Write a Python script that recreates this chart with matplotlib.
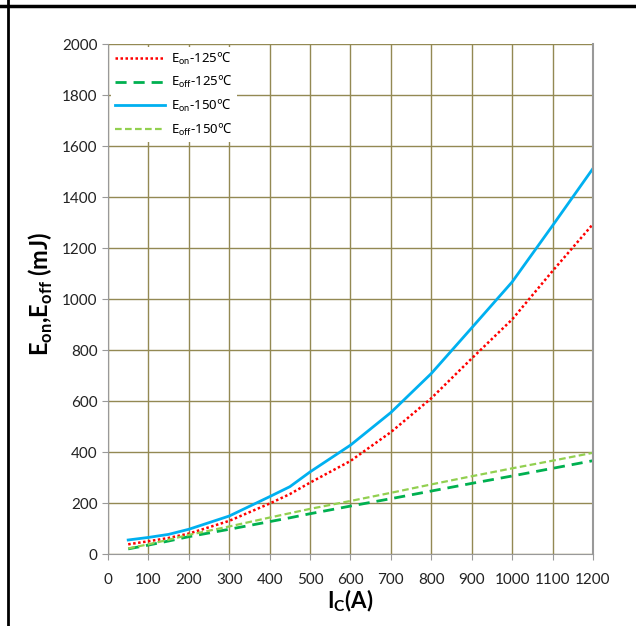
import matplotlib.pyplot as plt
from matplotlib.lines import Line2D

plt.rcParams['font.family'] = ['Lato', 'DejaVu Sans']
plt.rcParams['mathtext.fontset'] = 'custom'
plt.rcParams['mathtext.rm'] = 'Lato'
plt.rcParams['mathtext.bf'] = 'Lato:bold'

# datos
ic = [50, 100, 150, 200, 300, 400, 450, 500, 600, 700, 800, 900, 1000, 1100, 1200]
eon_125 = [38, 50, 63, 80, 130, 198, 235, 280, 365, 478, 611, 767, 920, 1110, 1294]
eoff_125 = [20, 35, 51, 68, 97, 127, 142, 158, 188, 217, 247, 277, 306, 336, 366]
eon_150 = [55, 65, 77, 97, 149, 225, 264, 322, 427, 555, 708, 887, 1067, 1288, 1512]
eoff_150 = [22, 38, 56, 75, 108, 143, 160, 177, 208, 240, 273, 305, 336, 366, 397]

xticks = list(range(0, 1300, 100))
yticks = list(range(0, 2200, 200))

fig = plt.figure(figsize=(6.36, 6.26), dpi=100)
ax = fig.add_axes([0.1698, 0.115, 0.7626, 0.8147])

ax.plot(ic, eon_125, color='#FF0000', linestyle=(0, (1, 1)), lw=1.8, label=r'E$_\mathrm{on}$-125℃')
ax.plot(ic, eoff_125, color='#00B050', linestyle=(0, (4, 2.5)), lw=2, label=r'E$_\mathrm{off}$-125℃')
ax.plot(ic, eon_150, color='#00B0F0', lw=2, label=r'E$_\mathrm{on}$-150℃')
ax.plot(ic, eoff_150, color='#92D050', linestyle=(0, (3, 1.5)), lw=1.6, label=r'E$_\mathrm{off}$-150℃')

ax.set_xlim(0, 1200)
ax.set_ylim(0, 2000)
ax.set_xticks(xticks)
ax.set_yticks(yticks)
ax.grid(True, color='#938953', lw=1)
ax.set_axisbelow(True)
for s in ['left', 'bottom', 'right']:
    ax.spines[s].set_color('#999999')
ax.spines['right'].set_linewidth(1.5)
ax.spines['top'].set_visible(False)
ax.tick_params(direction='out', length=4, color='#999999', labelsize=11, labelcolor='#222222')
ax.tick_params(axis='x', pad=10)

ax.set_xlabel(r'I$_\mathbf{C}$(A)', fontsize=16, fontweight='bold', labelpad=0)
ax.set_ylabel(r'E$_\mathbf{on}$,E$_\mathbf{off}$ (mJ)', fontsize=17, fontweight='bold', labelpad=6)
ax.yaxis.set_label_coords(-0.11, 0.51)

leg = ax.legend(loc='upper left', prop={'family': ['Noto Sans', 'DejaVu Sans'], 'size': 9.5},
                frameon=True, fancybox=False,
                handlelength=3.8, handletextpad=0.5, labelspacing=0.58,
                borderaxespad=0.2, borderpad=0.3)
leg.get_frame().set_edgecolor('none')
leg.get_frame().set_facecolor('white')
leg.get_frame().set_alpha(1)

# borde de la tabla
fig.add_artist(Line2D([0, 1], [0.991, 0.991], color='black', lw=2.5))
fig.add_artist(Line2D([0.012, 0.012], [0, 1], color='black', lw=2))

plt.savefig('out.png', dpi=100)
